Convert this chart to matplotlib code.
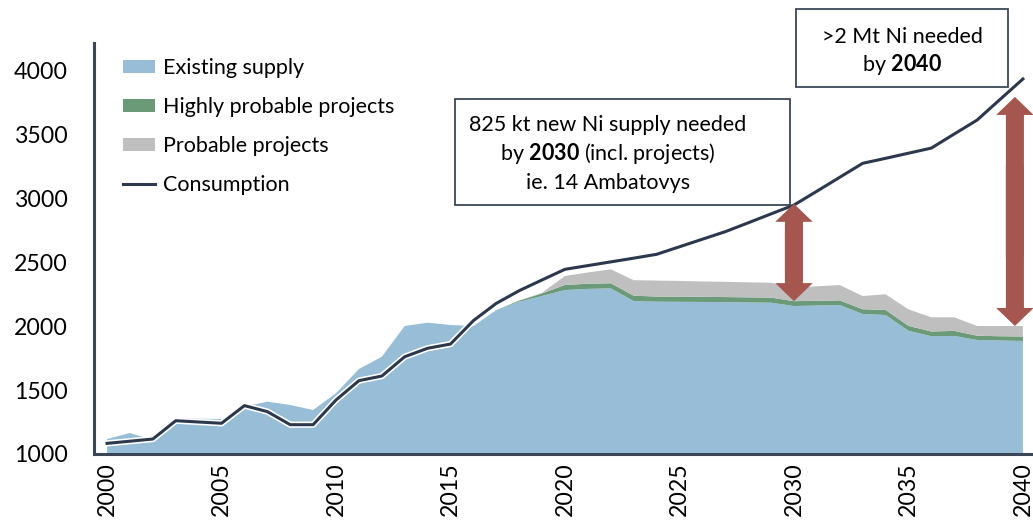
import matplotlib
matplotlib.use("Agg")
import matplotlib.pyplot as plt
import matplotlib.patheffects as pe
from matplotlib.patches import Rectangle, FancyArrowPatch

# Years on the x axis
years = list(range(2000, 2041))

# Existing supply (kt Ni)
existing_supply = [1117, 1164, 1109, 1279, 1276, 1273, 1370, 1409, 1383, 1344,
                   1475, 1664, 1760, 2000, 2026, 2008, 2000, 2125, 2190, 2235,
                   2281, 2290, 2294, 2195, 2190, 2189, 2188, 2186, 2184, 2182,
                   2156, 2160, 2164, 2094, 2086, 1963, 1920, 1922, 1891, 1887,
                   1883]

# Highly probable projects (kt Ni, stacked on existing supply)
highly_probable = [0, 0, 0, 0, 0, 0, 0, 0, 0, 0,
                   0, 0, 0, 0, 0, 0, 0, 0, 8, 20,
                   40, 40, 40, 42, 40, 40, 40, 40, 40, 40,
                   38, 37, 36, 37, 40, 38, 37, 40, 33, 33,
                   35]

# Probable projects (kt Ni, stacked on highly probable)
probable = [0, 0, 0, 0, 0, 0, 0, 0, 0, 0,
            0, 0, 0, 0, 0, 0, 0, 0, 0, 5,
            70, 88, 109, 121, 125, 123, 120, 119, 117, 116,
            106, 113, 120, 103, 122, 129, 111, 106, 76, 80,
            82]

# Consumption (kt Ni)
consumption = [1083, 1100, 1117, 1260, 1250, 1240, 1378, 1331, 1229, 1229,
               1422, 1573, 1609, 1760, 1826, 1859, 2042, 2177, 2276, 2360,
               2443, 2472, 2501, 2530, 2560, 2619, 2678, 2737, 2806, 2876,
               2945, 3053, 3162, 3271, 3310, 3350, 3390, 3500, 3609, 3770,
               3930]

series_labels = ["Existing supply", "Highly probable projects", "Probable projects"]
line_label = "Consumption"

yticks = [1000, 1500, 2000, 2500, 3000, 3500, 4000]
xticks = list(range(2000, 2041, 5))

# Colours
BLUE = "#98bed7"
GREEN = "#6a9a77"
GREY = "#bfbfbf"
NAVY = "#2c384d"
SPINE = "#3b4656"
ARROW = "#a5574f"

TEXT_SIZE = 15.5

plt.rcParams["font.family"] = ["Lato", "DejaVu Sans"]
plt.rcParams["mathtext.fontset"] = "custom"
plt.rcParams["mathtext.rm"] = "Lato"
plt.rcParams["mathtext.bf"] = "Lato:bold"

fig = plt.figure(figsize=(10.33, 5.25), dpi=100)
ax = fig.add_axes([94 / 1033, 71 / 525, 939 / 1033, 411 / 525])

# Stacked supply areas
ax.stackplot(years, existing_supply, highly_probable, probable,
             colors=[BLUE, GREEN, GREY], labels=series_labels, lw=0)

# Consumption line with a thin white halo
ax.plot(years, consumption, color=NAVY, lw=2.2, label=line_label,
        path_effects=[pe.Stroke(linewidth=4.5, foreground="white"), pe.Normal()])


def double_arrow(x, y0, y1):
    """ Thick double headed arrow drawn from two overlapping simple arrows """
    d = y1 - y0
    style = "simple,head_length=13,head_width=27,tail_width=13"
    for start, end in [(y0 + 0.3 * d, y1), (y1 - 0.3 * d, y0)]:
        ax.add_patch(FancyArrowPatch((x, start), (x, end), arrowstyle=style,
                                     mutation_scale=1, color=ARROW, lw=0,
                                     shrinkA=0, shrinkB=0, zorder=5))


# Gap between consumption and supply in 2030 and 2040
i30 = years.index(2030)
double_arrow(2030, existing_supply[i30] + highly_probable[i30], consumption[i30] + 10)
double_arrow(2039.65, 2000, 3790)

# Axis limits and ticks
ax.set_xlim(1999.43, 2040.44)
ax.set_ylim(1000, 4211)
ax.set_yticks(yticks)
ax.set_xticks(xticks)
ax.tick_params(axis="y", length=0, pad=19, labelsize=16.7, colors="black")
ax.tick_params(axis="x", length=0, pad=6, labelsize=16.7, labelrotation=90)

for side in ["top", "right"]:
    ax.spines[side].set_visible(False)
for side in ["left", "bottom"]:
    ax.spines[side].set_color(SPINE)
    ax.spines[side].set_linewidth(2.2)

# Legend
ax.legend(loc="upper left", bbox_to_anchor=(0.031, 0.9625), frameon=False,
          fontsize=TEXT_SIZE, handlelength=1.48, handleheight=0.55,
          handletextpad=0.37, labelspacing=0.88, borderpad=0, borderaxespad=0)


def text_box(x0, y0, x1, y1):
    ax.add_patch(Rectangle((x0, y0), x1 - x0, y1 - y0, transform=ax.transAxes,
                           facecolor="white", edgecolor=SPINE, lw=1.3,
                           clip_on=False, zorder=6))


# Annotation boxes (axes fraction coordinates)
text_box(0.3845, 0.606, 0.741, 0.864)
ax.text(0.5474, 0.786, "825 kt new Ni supply needed", transform=ax.transAxes,
        ha="center", va="baseline", fontsize=TEXT_SIZE, zorder=7)
ax.text(0.5474, 0.715, r"by $\mathbf{2030}$ (incl. projects)", transform=ax.transAxes,
        ha="center", va="baseline", fontsize=TEXT_SIZE, zorder=7)
ax.text(0.5474, 0.645, "ie. 14 Ambatovys", transform=ax.transAxes,
        ha="center", va="baseline", fontsize=TEXT_SIZE, zorder=7)

text_box(0.7476, 0.893, 0.9734, 1.083)
ax.text(0.8605, 1.0, ">2 Mt Ni needed", transform=ax.transAxes,
        ha="center", va="baseline", fontsize=TEXT_SIZE, zorder=7)
ax.text(0.8605, 0.932, r"by $\mathbf{2040}$", transform=ax.transAxes,
        ha="center", va="baseline", fontsize=TEXT_SIZE, zorder=7)

fig.savefig("out.png", dpi=100)
